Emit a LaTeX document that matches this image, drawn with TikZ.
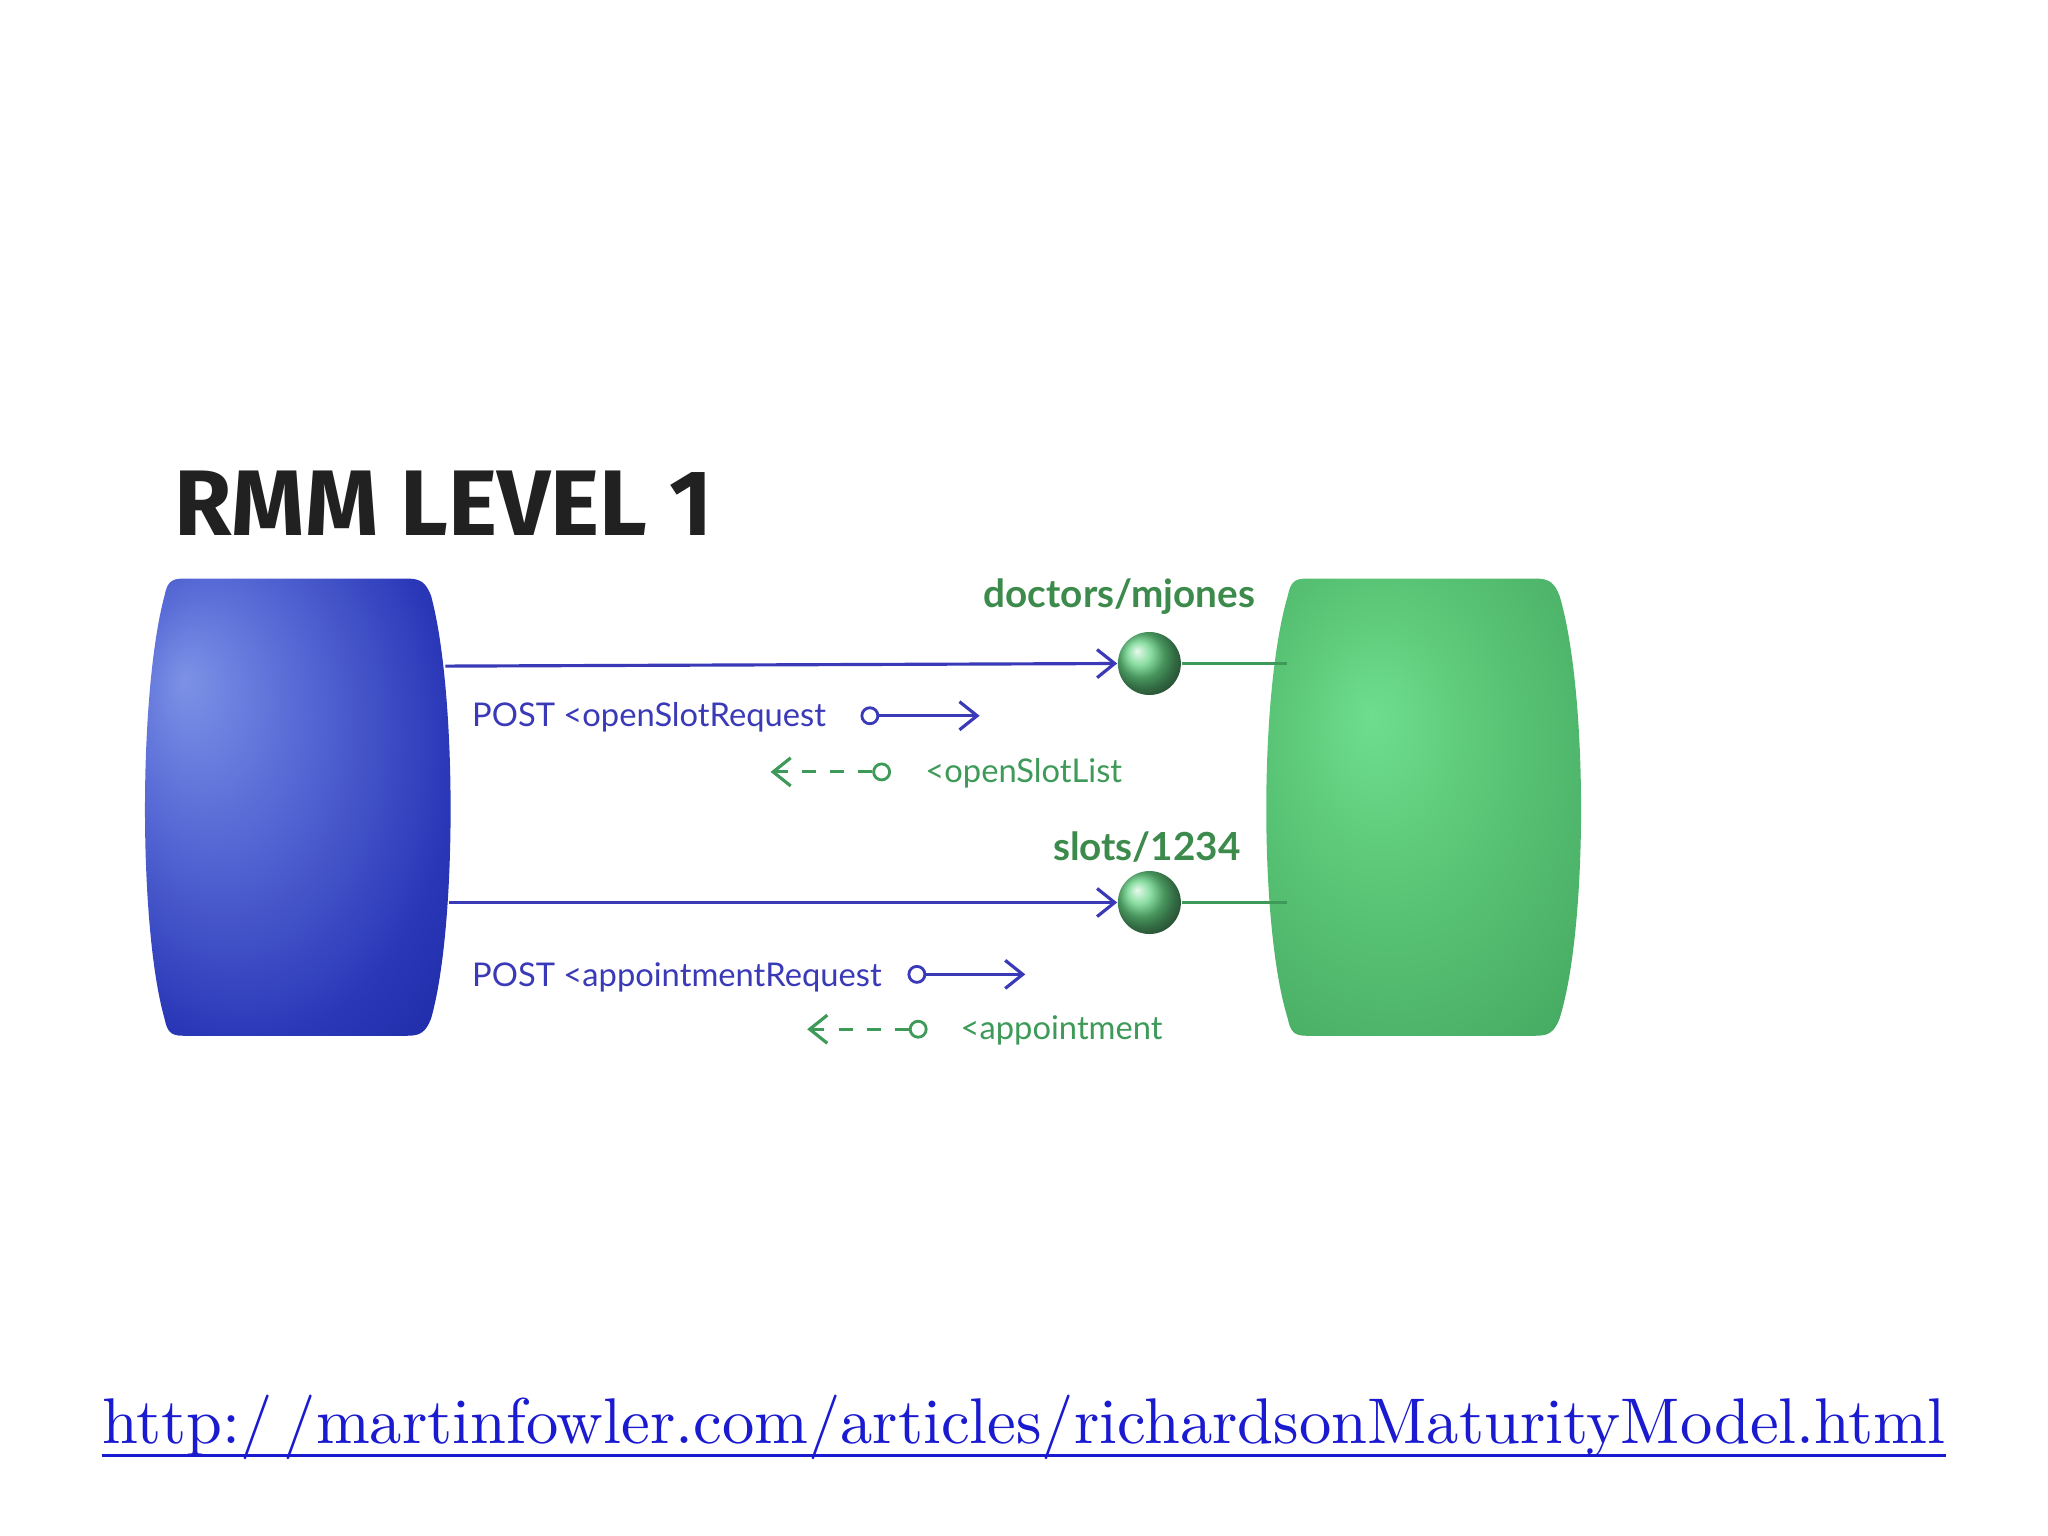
\documentclass[tikz,border=0pt]{standalone}
\usepackage{fontspec}
\setsansfont{Lato}
\newfontfamily\titlefont{Fira Sans}
\usetikzlibrary{arrows.meta}
\definecolor{lblue}{HTML}{3A3AB8}
\definecolor{lgreen}{HTML}{3E9A58}
\definecolor{tgreen}{HTML}{3C8A4C}
\definecolor{urlblue}{HTML}{1A1AD0}
\definecolor{b0}{HTML}{7C92E6}
\definecolor{b1}{HTML}{5C6FD8}
\definecolor{b2}{HTML}{2A38B8}
\definecolor{b3}{HTML}{0A1488}
\definecolor{g0}{HTML}{6EDE8E}
\definecolor{g1}{HTML}{5CC878}
\definecolor{g2}{HTML}{44A860}
\definecolor{g3}{HTML}{2E7E46}
\pgfdeclareradialshading{bluesh}{\pgfpoint{-18bp}{14bp}}{color(0bp)=(b0); color(12bp)=(b1); color(32bp)=(b2); color(58bp)=(b3)}
\pgfdeclareradialshading{greensh}{\pgfpoint{-8bp}{10bp}}{color(0bp)=(g0); color(15bp)=(g1); color(40bp)=(g2); color(65bp)=(g3)}
\tikzset{
 msg/.style={font=\sffamily\fontsize{9.3}{11}\selectfont, anchor=base west, inner sep=0},
 res/.style={font=\sffamily\bfseries\fontsize{11}{13}\selectfont, text=tgreen, anchor=base, inner sep=0},
 bline/.style={lblue, line width=0.9pt},
 gline/.style={lgreen, line width=0.9pt},
 ball/.style={circle, minimum size=0.63cm, inner sep=0, shading=ball, ball color=g0!80!g2},
 oc/.style={circle, draw, line width=0.8pt, minimum size=0.16cm, inner sep=0},
 tip/.style={-{Straight Barb[length=5pt,width=8pt]}}
}
\begin{document}
\begin{tikzpicture}[x=0.01306cm,y=-0.01306cm]
\useasboundingbox (0,0) rectangle (1568,1176);
\fill[white] (0,0) rectangle (1568,1176);
\node[font=\titlefont\bfseries\fontsize{26.5}{30}\selectfont, text=black!87, anchor=base west, inner sep=0] (title) at (133,410) {RMM LEVEL 1};
% blue barrel
\shade[shading=bluesh] (140,443) -- (312,443) .. controls (322,443) and (326,446) .. (330,456) .. controls (350,530) and (350,710) .. (330,780) .. controls (326,790) and (322,793) .. (312,793) -- (140,793) .. controls (131,793) and (128,790) .. (126,780) .. controls (106,710) and (106,530) .. (126,456) .. controls (128,446) and (131,443) .. (140,443) -- cycle;
\shade[shading=greensh] (1000,443) -- (1176,443) .. controls (1186,443) and (1190,446) .. (1194,456) .. controls (1216,530) and (1216,710) .. (1194,780) .. controls (1190,790) and (1186,793) .. (1176,793) -- (1000,793) .. controls (991,793) and (988,790) .. (986,780) .. controls (964,710) and (964,530) .. (986,456) .. controls (988,446) and (991,443) .. (1000,443) -- cycle;
% resource 1
\node[res] (r1) at (857,465) {doctors/mjones};
\node[ball] (b1) at (880,508) {};
\coordinate (s1) at (341,510);
\draw[bline, tip] (s1) -- (b1.west);
\coordinate (gg1) at (985,508);
\draw[gline] (b1.east) -- (gg1);
\node[msg, text=lblue] (m1) at (361,556) {POST <openSlotRequest};
\node[oc, lblue] (c1) at (666,548) {};
\coordinate (e1) at (750,548);
\draw[bline, tip] (c1) -- (e1);
\node[msg, text=lgreen] (m2) at (708,599) {<openSlotList};
\node[oc, lgreen] (c2) at (675,591) {};
\coordinate (e2) at (590,591);
\draw[gline, dash pattern=on 4pt off 4pt, tip] (c2) -- (e2);
% resource 2
\node[res] (r2) at (878,659) {slots/1234};
\node[ball] (b2) at (880,691) {};
\coordinate (s2) at (344,691);
\draw[bline, tip] (s2) -- (b2.west);
\coordinate (gg2) at (985,691);
\draw[gline] (b2.east) -- (gg2);
\node[msg, text=lblue] (m3) at (361,755) {POST <appointmentRequest};
\node[oc, lblue] (c3) at (702,746) {};
\coordinate (e3) at (785,746);
\draw[bline, tip] (c3) -- (e3);
\node[msg, text=lgreen] (m4) at (735,796) {<appointment};
\node[oc, lgreen] (c4) at (703,788) {};
\coordinate (e4) at (618,788);
\draw[gline, dash pattern=on 4pt off 4pt, tip] (c4) -- (e4);
% url
\node[anchor=base west, inner sep=0, text=urlblue] (url) at (78,1105) {\resizebox{18.43cm}{!}{http:/\,/martinfowler.com/articles/richardsonMaturityModel.html}};
\draw[urlblue, line width=0.8pt] ([yshift=-1.2mm]url.base west) -- ([yshift=-1.2mm]url.base east);
\end{tikzpicture}
\end{document}
